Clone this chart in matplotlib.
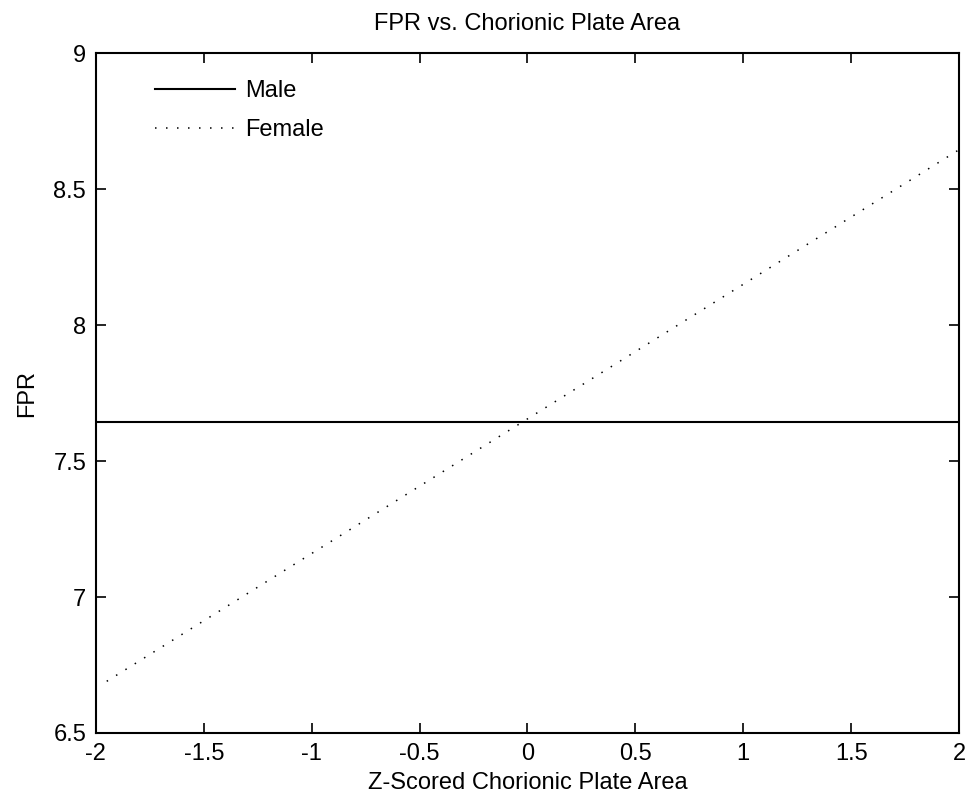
import matplotlib
matplotlib.use("Agg")
import matplotlib.pyplot as plt

male_x = [-2.0, 2.0]
male_y = [7.645, 7.645]
female_x = [-1.95, 2.0]
female_y = [6.69, 8.645]

xticks = [-2, -1.5, -1, -0.5, 0, 0.5, 1, 1.5, 2]
xticklabels = ["-2", "-1.5", "-1", "-0.5", "0", "0.5", "1", "1.5", "2"]
yticks = [6.5, 7, 7.5, 8, 8.5, 9]
yticklabels = ["6.5", "7", "7.5", "8", "8.5", "9"]

plt.rcParams['font.family'] = ['Liberation Sans', 'DejaVu Sans']
FS = 17

fig = plt.figure(figsize=(9.69, 8.06), dpi=100)
ax = fig.add_axes([0.099, 0.0906, 0.8907, 0.8434])

ax.plot(male_x, male_y, color='black', linewidth=1.5, linestyle='-', label='Male')
ax.plot(female_x, female_y, color='black', linewidth=1.1, linestyle=(0, (1, 6.2)), label='Female')

ax.set_xlim(-2, 2)
ax.set_ylim(6.5, 9)
ax.set_xticks(xticks)
ax.set_xticklabels(xticklabels)
ax.set_yticks(yticks)
ax.set_yticklabels(yticklabels)
ax.tick_params(direction='in', length=7, width=1.2, top=True, right=True, labelsize=FS, pad=7)
for s in ax.spines.values():
    s.set_linewidth(1.5)

ax.set_title('FPR vs. Chorionic Plate Area', fontsize=FS, pad=17)
ax.set_xlabel('Z-Scored Chorionic Plate Area', fontsize=FS, labelpad=5)
ax.set_ylabel('FPR', fontsize=FS, labelpad=11)

leg = ax.legend(loc='upper left', frameon=False, fontsize=FS, handlelength=3.4,
                borderaxespad=0, borderpad=0, bbox_to_anchor=(0.0684, 0.960),
                handletextpad=0.4, labelspacing=0.72)

fig.savefig('out.png', dpi=100)
